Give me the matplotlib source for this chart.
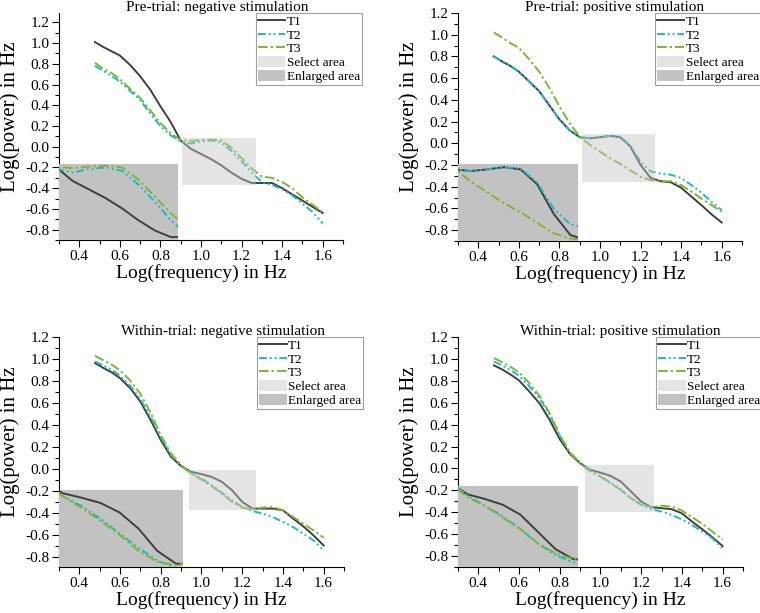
import matplotlib
matplotlib.use("Agg")
import matplotlib.pyplot as plt
from matplotlib.patches import Rectangle, Patch
from matplotlib.lines import Line2D
from matplotlib.ticker import MultipleLocator, FormatStrFormatter

plt.rcParams['font.family'] = ['Liberation Serif', 'DejaVu Serif']
plt.rcParams['axes.unicode_minus'] = False

# log frequency (Hz)
log_freq = [0.477, 0.52, 0.56, 0.6, 0.65, 0.7, 0.75, 0.8, 0.85, 0.9, 0.95, 1.0,
            1.05, 1.1, 1.15, 1.2, 1.25, 1.3, 1.35, 1.4, 1.45, 1.5, 1.55, 1.6]

titles = ["Pre-trial: negative stimulation", "Pre-trial: positive stimulation",
          "Within-trial: negative stimulation", "Within-trial: positive stimulation"]
series_names = ["T1", "T2", "T3"]

# pre-trial, negative
pre_neg_t1 = [1.01, 0.96, 0.92, 0.88, 0.79, 0.68, 0.55, 0.39, 0.24, 0.06, -0.02, -0.07,
              -0.12, -0.18, -0.25, -0.31, -0.35, -0.35, -0.35, -0.40, -0.46, -0.52, -0.58, -0.64]
pre_neg_t2 = [0.78, 0.73, 0.68, 0.63, 0.54, 0.45, 0.32, 0.20, 0.11, 0.05, 0.03, 0.05,
              0.06, 0.04, -0.04, -0.14, -0.25, -0.34, -0.37, -0.41, -0.47, -0.55, -0.63, -0.74]
pre_neg_t3 = [0.81, 0.75, 0.71, 0.65, 0.56, 0.47, 0.35, 0.23, 0.13, 0.065, 0.055, 0.065,
              0.07, 0.06, -0.01, -0.11, -0.21, -0.29, -0.30, -0.34, -0.40, -0.49, -0.56, -0.63]

# pre-trial, positive
pre_pos_t1 = [0.80, 0.75, 0.71, 0.66, 0.57, 0.48, 0.35, 0.22, 0.12, 0.055, 0.046, 0.055,
              0.068, 0.055, -0.03, -0.20, -0.32, -0.35, -0.36, -0.41, -0.49, -0.57, -0.655, -0.73]
pre_pos_t2 = [0.80, 0.75, 0.71, 0.66, 0.57, 0.48, 0.35, 0.22, 0.12, 0.055, 0.046, 0.055,
              0.068, 0.06, -0.02, -0.17, -0.26, -0.28, -0.29, -0.32, -0.385, -0.455, -0.54, -0.615]
pre_pos_t3 = [1.02, 0.97, 0.92, 0.88, 0.775, 0.66, 0.51, 0.34, 0.185, 0.062, -0.015, -0.077,
              -0.138, -0.19, -0.25, -0.31, -0.34, -0.35, -0.35, -0.385, -0.445, -0.51, -0.57, -0.63]

# within-trial, negative
win_neg_t1 = [0.963, 0.917, 0.878, 0.826, 0.735, 0.613, 0.446, 0.264, 0.112, 0.027, -0.025, -0.046,
              -0.071, -0.116, -0.192, -0.298, -0.359, -0.359, -0.359, -0.374, -0.45, -0.52, -0.602, -0.694]
win_neg_t2 = [0.978, 0.939, 0.902, 0.847, 0.756, 0.635, 0.477, 0.288, 0.127, 0.03, -0.04, -0.086,
              -0.147, -0.216, -0.283, -0.344, -0.38, -0.405, -0.435, -0.48, -0.526, -0.587, -0.648, -0.739]
win_neg_t3 = [1.03, 0.987, 0.948, 0.896, 0.805, 0.683, 0.513, 0.309, 0.142, 0.036, -0.04, -0.095,
              -0.156, -0.222, -0.298, -0.35, -0.365, -0.35, -0.344, -0.374, -0.435, -0.496, -0.557, -0.624]

# within-trial, positive
win_pos_t1 = [0.941, 0.901, 0.855, 0.804, 0.703, 0.596, 0.444, 0.267, 0.133, 0.048, -0.013, -0.038,
              -0.068, -0.12, -0.211, -0.302, -0.354, -0.363, -0.372, -0.41, -0.485, -0.555, -0.629, -0.708]
win_pos_t2 = [0.977, 0.938, 0.895, 0.846, 0.749, 0.642, 0.49, 0.298, 0.145, 0.054, -0.02, -0.074,
              -0.129, -0.196, -0.272, -0.333, -0.372, -0.394, -0.425, -0.465, -0.516, -0.577, -0.638, -0.73]
win_pos_t3 = [1.008, 0.968, 0.926, 0.877, 0.78, 0.664, 0.505, 0.307, 0.145, 0.048, -0.029, -0.074,
              -0.135, -0.196, -0.272, -0.324, -0.354, -0.34, -0.348, -0.384, -0.445, -0.506, -0.577, -0.648]

panel_series = [[pre_neg_t1, pre_neg_t2, pre_neg_t3],
                [pre_pos_t1, pre_pos_t2, pre_pos_t3],
                [win_neg_t1, win_neg_t2, win_neg_t3],
                [win_pos_t1, win_pos_t2, win_pos_t3]]

# select area (x0, y0, x1, y1) and enlarged area, data units
select_area = [(0.908, -0.367, 1.272, 0.081), (0.911, -0.354, 1.272, 0.086),
               (0.939, -0.375, 1.267, -0.01), (0.923, -0.395, 1.264, 0.032)]
enlarged_area = [(0.3, -0.9, 0.887, -0.165), (0.3, -0.9, 0.89, -0.191),
                 (0.3, -0.891, 0.907, -0.192), (0.3, -0.898, 0.89, -0.158)]
y_limits = [(-0.9, 1.29), (-0.9, 1.2), (-0.89, 1.2), (-0.9, 1.2)]

colors = ['#3f3f3f', '#1fb8c9', '#7cb82f']
styles = ['-', (0, (4, 1.5, 1, 1.5, 1, 1.5)), (0, (5, 1.5, 1.2, 1.5))]
sel_color, sel_alpha = '#c4c4c4', 0.45
enl_color = '#c2c2c2'

fig = plt.figure(figsize=(7.6, 6.13), dpi=100)
boxes = [[0.0776, 0.6085, 0.3737, 0.3703], [0.6026, 0.6069, 0.3737, 0.372],
         [0.0776, 0.075, 0.375, 0.3752], [0.6026, 0.075, 0.375, 0.3752]]
title_x = [0.556, 0.553, 0.575, 0.568]

for i in range(4):
    ax = fig.add_axes(boxes[i])
    for s, c, ls, name in zip(panel_series[i], colors, styles, series_names):
        ax.plot(log_freq, s, color=c, linestyle=ls, lw=1.4, label=name, zorder=2)

    sx0, sy0, sx1, sy1 = select_area[i]
    ax.add_patch(Rectangle((sx0, sy0), sx1 - sx0, sy1 - sy0, facecolor=sel_color,
                           alpha=sel_alpha, edgecolor='none', zorder=3))

    ex0, ey0, ex1, ey1 = enlarged_area[i]
    ins = ax.inset_axes([ex0, ey0, ex1 - ex0, ey1 - ey0], transform=ax.transData)
    ins.set_facecolor(enl_color)
    for s, c, ls in zip(panel_series[i], colors, styles):
        ins.plot(log_freq, s, color=c, linestyle=ls, lw=1.4)
    ins.set_xlim(sx0, sx1)
    ins.set_ylim(sy0, sy1)
    ins.set_xticks([])
    ins.set_yticks([])
    for sp in ins.spines.values():
        sp.set_visible(False)

    ax.set_xlim(0.3, 1.7)
    ax.set_ylim(*y_limits[i])
    ax.xaxis.set_minor_locator(MultipleLocator(0.1))
    ax.yaxis.set_minor_locator(MultipleLocator(0.1))
    ax.xaxis.set_major_formatter(FormatStrFormatter('%.1f'))
    ax.yaxis.set_major_formatter(FormatStrFormatter('%.1f'))
    ax.set_xticks([0.4, 0.6, 0.8, 1.0, 1.2, 1.4, 1.6])
    ax.set_yticks([-0.8, -0.6, -0.4, -0.2, 0.0, 0.2, 0.4, 0.6, 0.8, 1.0, 1.2])
    ax.tick_params(which='major', direction='out', length=5, width=0.8, labelsize=11, pad=2)
    ax.tick_params(which='minor', direction='out', length=3, width=0.8)
    ax.spines['top'].set_visible(False)
    ax.spines['right'].set_visible(False)
    ax.set_xlabel("Log(frequency) in Hz", fontsize=14)
    ax.set_ylabel("Log(power) in Hz", fontsize=15)
    ax.xaxis.set_label_coords(0.5, -0.105)
    ax.yaxis.set_label_coords(-0.137, 0.543)
    ax.text(title_x[i], 1.024, titles[i], transform=ax.transAxes, ha='center',
            va='center', fontsize=11)

    handles = [Line2D([], [], color=c, linestyle=ls, lw=1.4) for c, ls in zip(colors, styles)]
    handles += [Patch(facecolor=sel_color, alpha=sel_alpha, edgecolor='none'),
                Patch(facecolor=enl_color, edgecolor='none')]
    labels = series_names + ["Select area", "Enlarged area"]
    leg = ax.legend(handles, labels, loc='upper right', bbox_to_anchor=(1.067, 1.0),
                    fontsize=9.5, frameon=True, fancybox=False, framealpha=1,
                    edgecolor='#a0a0a0', borderpad=0.15, labelspacing=0.05,
                    handlelength=2.1, handleheight=0.9, handletextpad=0.1,
                    borderaxespad=0.0)
    leg.get_frame().set_linewidth(0.8)
    leg.set_zorder(10)

fig.savefig("out.png", dpi=100)
